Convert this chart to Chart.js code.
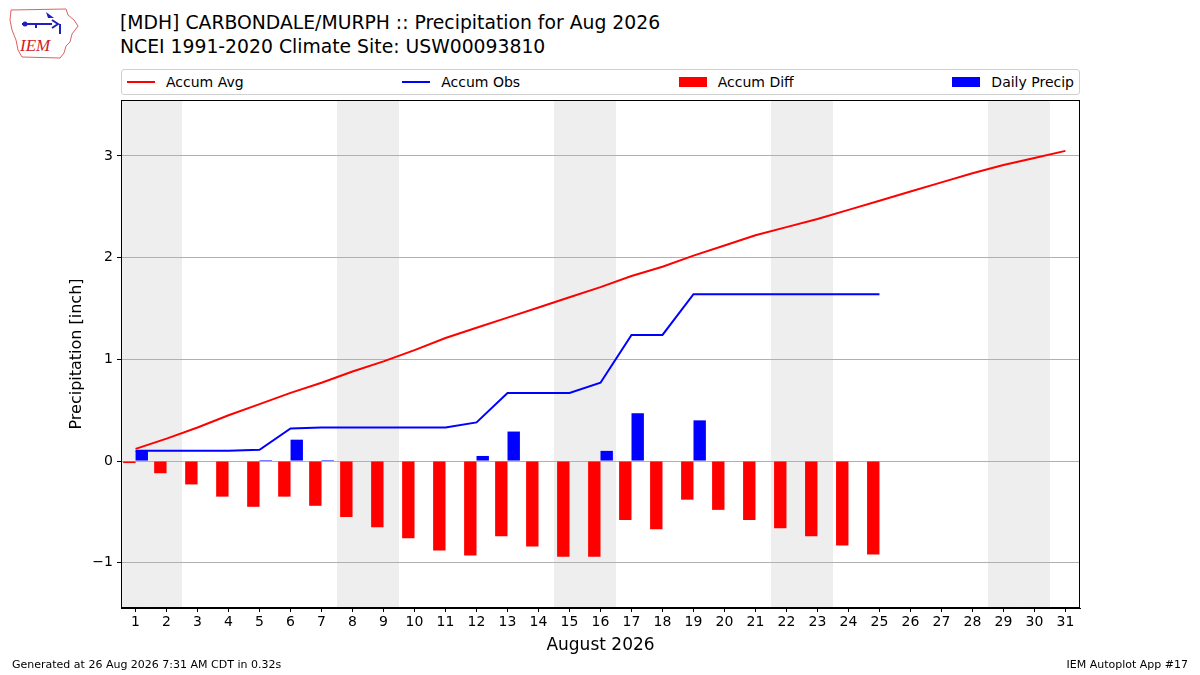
<!DOCTYPE html>
<html>
<head>
<meta charset="utf-8">
<title>Precipitation for Aug 2026</title>
<script src="https://cdn.jsdelivr.net/npm/chart.js"></script>
<style>
  body { margin: 0; background: #fff; font-family: "DejaVu Sans", sans-serif; }
  #wrap { position: relative; width: 1200px; height: 675px; overflow: hidden; }
  #chart { position: absolute; left: 0; top: 0; }
  .title { position: absolute; left: 120px; font-size: 18.8px; color: #000; white-space: nowrap; }
  #legend { position: absolute; left: 121px; top: 69px; width: 947px; height: 24px;
            border: 1px solid #d0d0d0; border-radius: 3px; display: flex;
            justify-content: space-between; align-items: center; padding: 0 5px 0 5px;
            box-sizing: content-box; }
  #legend .item { display: flex; align-items: center; font-size: 14px; }
  #legend .swatch { width: 28px; margin-right: 11px; }
  .foot { position: absolute; top: 658px; font-size: 11px; white-space: nowrap; }
</style>
</head>
<body>
<div id="wrap">
  <svg style="position:absolute;left:8px;top:6px" width="72" height="54" viewBox="0 0 72 54">
    <path d="M3,4 L58,3 L60,9 L66,14 L70,20 L64,28 L62,36 L58,40 L56,47 L52,52 L14,51 L10,44 L8,34 L4,24 L2,14 Z"
          fill="none" stroke="#e06060" stroke-width="1"/>
    <path d="M14,18 L44,18 M28,18 L28,22 M44,14 L50,18 L44,22 M52,18 L52,28" stroke="#2020c0" stroke-width="2" fill="none"/>
    <circle cx="17" cy="18" r="2.5" fill="#2020c0"/>
    <path d="M38,6 L46,12 L40,12 Z" fill="#2020c0"/>
    <text x="12" y="45" font-family="Liberation Serif, serif" font-style="italic" font-size="17" fill="#d02020">IEM</text>
  </svg>
  <div class="title" style="top:12px">[MDH] CARBONDALE/MURPH :: Precipitation for Aug 2026</div>
  <div class="title" style="top:36px">NCEI 1991-2020 Climate Site: USW00093810</div>
  <div id="legend"></div>
  <canvas id="chart" width="1200" height="675"></canvas>
  <div class="foot" style="left:12px">Generated at 26 Aug 2026 7:31 AM CDT in 0.32s</div>
  <div class="foot" style="right:12px">IEM Autoplot App #17</div>
</div>
<script>
// day of month
const days = [1,2,3,4,5,6,7,8,9,10,11,12,13,14,15,16,17,18,19,20,21,22,23,24,25,26,27,28,29,30,31];
// saturday / sunday
const weekendDays = [1,2,8,9,15,16,22,23,29,30];
const yTicks = [-1,0,1,2,3];

// inches
const accumAvg = [0.12,0.22,0.33,0.45,0.56,0.67,0.77,0.88,0.98,1.09,1.21,1.31,1.41,1.51,1.61,1.71,
                  1.82,1.91,2.02,2.12,2.22,2.30,2.38,2.47,2.56,2.65,2.74,2.83,2.91,2.98,3.05];
const accumObs = [0.10,0.10,0.10,0.10,0.11,0.32,0.33,0.33,0.33,0.33,0.33,0.38,0.67,0.67,0.67,0.77,
                  1.24,1.24,1.64,1.64,1.64,1.64,1.64,1.64,1.64];
const accumDiff = [-0.02,-0.12,-0.23,-0.35,-0.45,-0.35,-0.44,-0.55,-0.65,-0.76,-0.88,-0.93,-0.74,
                   -0.84,-0.94,-0.94,-0.58,-0.67,-0.38,-0.48,-0.58,-0.66,-0.74,-0.83,-0.92];
const dailyPrecip = [0.10,0,0,0,0.01,0.21,0.01,0,0,0,0,0.05,0.29,0,0,0.10,0.47,0,0.40,0,0,0,0,0,0];

const pts = arr => arr.map((v, i) => ({ x: days[i], y: v }));

const series = [
    { label: 'Accum Avg', type: 'line', data: pts(accumAvg), borderColor: 'red', borderWidth: 2,
      pointRadius: 0, order: 0 },
    { label: 'Accum Obs', type: 'line', data: pts(accumObs), borderColor: 'blue', borderWidth: 2,
      pointRadius: 0, order: 0 },
    { label: 'Accum Diff', type: 'bar', data: pts(accumDiff), backgroundColor: 'red', order: 1,
      categoryPercentage: 0.8, barPercentage: 1.0 },
    { label: 'Daily Precip', type: 'bar', data: pts(dailyPrecip), backgroundColor: 'blue', order: 1,
      categoryPercentage: 0.8, barPercentage: 1.0 }
];

// legend in matplotlib "expand" style
const legend = document.getElementById('legend');
series.forEach(s => {
    const item = document.createElement('div');
    item.className = 'item';
    const sw = document.createElement('span');
    sw.className = 'swatch';
    const col = s.type === 'line' ? s.borderColor : s.backgroundColor;
    sw.style.background = col;
    sw.style.height = s.type === 'line' ? '2px' : '10px';
    item.appendChild(sw);
    item.appendChild(document.createTextNode(s.label));
    legend.appendChild(item);
});

const backdrop = {
    id: 'backdrop',
    beforeDraw(chart) {
        const { ctx, chartArea, scales } = chart;
        ctx.save();
        ctx.fillStyle = '#eeeeee';
        weekendDays.forEach(d => {
            const x0 = Math.max(scales.x.getPixelForValue(d - 0.5), chartArea.left);
            const x1 = Math.min(scales.x.getPixelForValue(d + 0.5), chartArea.right);
            ctx.fillRect(x0, chartArea.top, x1 - x0, chartArea.bottom - chartArea.top);
        });
        ctx.restore();
    },
    afterDraw(chart) {
        const { ctx, chartArea } = chart;
        ctx.save();
        ctx.strokeStyle = '#000';
        ctx.lineWidth = 1;
        ctx.strokeRect(chartArea.left + 0.5, chartArea.top + 0.5,
                       chartArea.right - chartArea.left - 1, chartArea.bottom - chartArea.top - 1);
        ctx.restore();
    }
};

Chart.defaults.font.family = '"DejaVu Sans", sans-serif';
Chart.defaults.color = '#000';

new Chart(document.getElementById('chart'), {
    data: { datasets: series },
    options: {
        responsive: false,
        animation: false,
        layout: { padding: { left: 65, top: 100, right: 120, bottom: 17 } },
        plugins: { legend: { display: false }, tooltip: { enabled: false } },
        scales: {
            x: {
                type: 'linear', min: 0.53, max: 31.47, offset: false,
                afterBuildTicks: s => { s.ticks = days.map(v => ({ value: v })); },
                afterFit: s => { s.height = 50; },
                grid: { drawOnChartArea: false, offset: false, tickLength: 4, tickColor: '#000' },
                border: { color: '#000' },
                ticks: { font: { size: 14 }, padding: 2, maxRotation: 0, autoSkip: false },
                title: { display: true, text: 'August 2026', font: { size: 17 }, padding: { top: 2, bottom: 2 } }
            },
            y: {
                min: -1.445, max: 3.55,
                afterBuildTicks: s => { s.ticks = yTicks.map(v => ({ value: v })); },
                afterFit: s => { s.width = 56; },
                grid: { color: '#b0b0b0', tickLength: 4, tickColor: '#000' },
                border: { color: '#000' },
                ticks: { font: { size: 14 }, padding: 4,
                         callback: v => String(v).replace('-', '\u2212') },
                title: { display: true, text: 'Precipitation [inch]', font: { size: 16 }, padding: 2 }
            }
        }
    },
    plugins: [backdrop]
});
</script>
</body>
</html>
